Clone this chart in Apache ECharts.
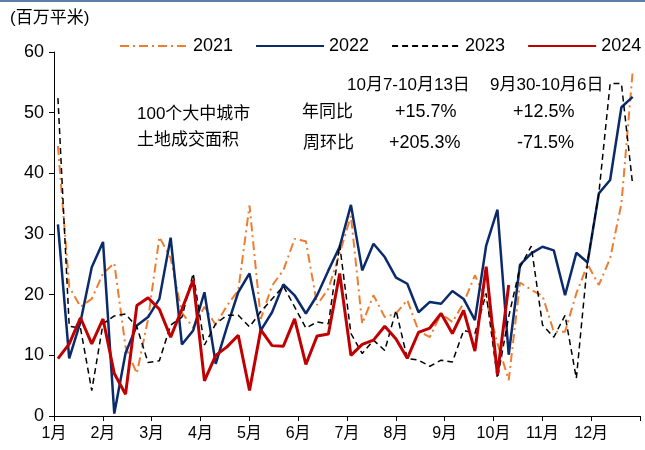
<!DOCTYPE html>
<html>
<head lang="zh">
    <meta charset="UTF-8">
    <title>100个大中城市土地成交面积</title>
    <style>
        html,body{
            margin:0;
            padding:0;
            background:#fff;
        }
        #main{
            width:645px;
            height:450px;
        }
    </style>
    <script src="https://cdn.jsdelivr.net/npm/echarts/dist/echarts.min.js"></script>
</head>
<body>
<div id="main"></div>
<script>
    // 月份标签
    var monthLabels = ['1月','2月','3月','4月','5月','6月','7月','8月','9月','10月','11月','12月'];
    // 周度数据（百万平米）
    var data2021 = [44.5,21.3,18,19.3,23.5,25.2,11.4,7.0,16,29.5,26,17,14.6,18,15,18.2,20.7,34.7,16,21.5,
        24,29.2,28.8,18.3,21,26.8,33,15.2,19.9,16.3,16.9,19.1,14,13,16.9,15.5,18.6,23.2,19.1,12,
        5.9,22,20.8,19.8,13.9,13.9,20.2,25,21.6,26,35,56.8];
    var data2022 = [31.6,9.5,15.5,24.5,28.7,0.4,10.4,14.9,16.3,19.3,29.4,11.8,14.1,20.4,8.6,14.7,20.4,23.5,14.1,17.1,
        21.7,19.9,16.9,19.9,24.0,27.9,34.8,24.0,28.4,26.2,22.8,21.8,17.1,18.8,18.5,20.6,19.3,15.8,28.1,34.0,
        10.1,24.9,26.8,27.9,27.3,19.9,26.9,25.3,36.7,38.9,50.9,52.6];
    var data2023 = [52.4,14.8,14.5,4.2,15.2,16.5,16.8,14.7,8.8,9.1,15.0,16.3,23.5,11.7,15.2,16.6,16.6,14.7,17.2,19.3,
        21.4,18,14.5,15.5,15.2,28.2,13.6,10.3,12.5,10.8,17.4,9.5,9.2,8.2,9.2,8.9,14.1,13.6,20.2,6.2,
        16.4,24.5,28,15,13,16.6,6.2,25.5,36.7,54.8,54.8,38.1];
    var data2024 = [9.45,11.9,16.2,11.9,16.0,7.0,3.6,18.2,19.5,17.6,13.0,17.6,22.4,5.8,10.0,11.4,13.3,4.2,14.2,11.6,
        11.5,16.0,8.5,13.2,13.5,23.5,10.0,11.8,12.5,14.8,12.7,9.5,13.8,14.5,16.9,13.6,17.4,10.7,24.6,6.8,21.6];

    // 第i周放在横轴(月)上的位置
    function toPoints(arr){
        var res = [];
        for(var i=0;i<arr.length;i++){
            res.push([(i+0.35)*12/52, arr[i]]);
        }
        return res;
    }

    var cnFont = '"Liberation Sans", Arial, "Noto Sans CJK SC", sans-serif';

    function txt(str, x, y, size){
        return {
            type:'text',
            style:{
                text:str,
                x:x,
                y:y,
                font: size + 'px ' + cnFont,
                fill:'#000',
                textVerticalAlign:'middle',
                verticalAlign:'middle'
            }
        };
    }

    var chart = echarts.init(document.getElementById('main'));
    var option = {
        animation:false,
        grid:{
            left:54,
            right:5,
            top:52,
            bottom:34
        },
        legend:{
            left:119,
            top:37,
            padding:0,
            width:526,
            itemWidth:68,
            itemHeight:12,
            itemGap:22,
            itemStyle:{opacity:0},
            textStyle:{
                fontSize:18,
                color:'#000',
                fontFamily:cnFont
            },
            data:['2021','2022','2023','2024']
        },
        xAxis:{
            type:'value',
            min:0,
            max:12,
            interval:1,
            axisLine:{lineStyle:{color:'#000',width:1}},
            axisTick:{show:true,length:5,lineStyle:{color:'#000'}},
            splitLine:{show:false},
            axisLabel:{
                color:'#000',
                fontSize:16,
                fontFamily:cnFont,
                margin:10,
                formatter:function(v){
                    return v < 12 ? monthLabels[v] : '';
                }
            }
        },
        yAxis:{
            type:'value',
            min:0,
            max:60,
            interval:10,
            axisLine:{show:true,lineStyle:{color:'#000',width:1}},
            axisTick:{show:true,length:5,lineStyle:{color:'#000'}},
            splitLine:{show:false},
            axisLabel:{
                color:'#000',
                fontSize:18,
                fontFamily:cnFont,
                margin:10
            }
        },
        graphic:[
            {
                type:'rect',
                shape:{x:0,y:0,width:645,height:2},
                style:{fill:'#5b7fab'}
            },
            txt('(百万平米)', 10, 18, 17),
            txt('100个大中城市', 137, 114, 17),
            txt('土地成交面积', 137, 140, 17),
            txt('10月7-10月13日', 347, 85, 17),
            txt('9月30-10月6日', 490, 85, 17),
            txt('年同比', 302, 112, 17),
            txt('+15.7%', 395, 112, 18),
            txt('+12.5%', 513, 112, 18),
            txt('周环比', 303, 143, 17),
            txt('+205.3%', 389, 143, 18),
            txt('-71.5%', 517, 143, 18)
        ],
        series:[
            {
                name:'2021',
                type:'line',
                symbol:'none',
                data:toPoints(data2021),
                lineStyle:{color:'#ED7D31',width:2,type:[9,4,2,4]},
                itemStyle:{color:'#ED7D31'}
            },
            {
                name:'2022',
                type:'line',
                symbol:'none',
                data:toPoints(data2022),
                lineStyle:{color:'#0a2a6b',width:2.5},
                itemStyle:{color:'#0a2a6b'}
            },
            {
                name:'2023',
                type:'line',
                symbol:'none',
                data:toPoints(data2023),
                lineStyle:{color:'#000',width:1.5,type:[6,4]},
                itemStyle:{color:'#000'}
            },
            {
                name:'2024',
                type:'line',
                symbol:'none',
                data:toPoints(data2024),
                lineStyle:{color:'#C00000',width:3},
                itemStyle:{color:'#C00000'}
            }
        ]
    };
    chart.setOption(option);
</script>
</body>
</html>
